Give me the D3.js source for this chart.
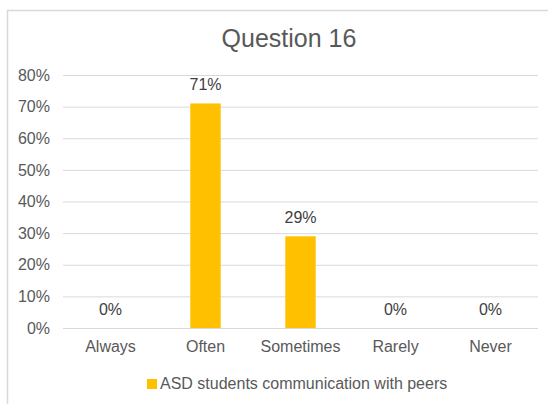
<!DOCTYPE html>
<html>
<head>
<meta charset="utf-8">
<script src="https://cdn.jsdelivr.net/npm/d3@7"></script>
<style>
  html, body { margin: 0; padding: 0; background: #fff; }
  svg { display: block; font-family: "Liberation Sans", Arial, Helvetica, sans-serif; }
</style>
</head>
<body>
<svg id="chart" width="548" height="404"></svg>
<script>
// Survey responses for question 16
const categories = ["Always", "Often", "Sometimes", "Rarely", "Never"];
const values = [0, 0.71, 0.29, 0, 0];
const yTicks = [0, 0.1, 0.2, 0.3, 0.4, 0.5, 0.6, 0.7, 0.8];
const seriesName = "ASD students communication with peers";
const chartTitle = "Question 16";

const svg = d3.select("#chart");
const W = 548, H = 404;
const textColor = "#595959";
const barColor = "#FFC000";
const gridColor = "#d9d9d9";

// outer chart frame (extends past the right and bottom edges)
svg.append("rect")
  .attr("x", 7.5).attr("y", 10.5)
  .attr("width", W + 20).attr("height", H + 20)
  .attr("fill", "#fff").attr("stroke", "#d9d9d9").attr("stroke-width", 1.5);

const plot = { left: 63, right: 538, top: 75, bottom: 328 };

const x = d3.scaleBand().domain(categories)
  .range([plot.left, plot.right]).paddingInner(0.68).paddingOuter(0.34);
const y = d3.scaleLinear().domain([0, 0.8]).range([plot.bottom, plot.top]);
const pct = d3.format(".0%");

// title
svg.append("text")
  .attr("x", 289).attr("y", 47)
  .attr("text-anchor", "middle")
  .attr("font-size", 25)
  .attr("fill", textColor)
  .text(chartTitle);

// y axis with gridlines
const yAxis = d3.axisLeft(y).tickValues(yTicks).tickFormat(pct)
  .tickSize(-(plot.right - plot.left)).tickPadding(13);
const gy = svg.append("g").attr("transform", `translate(${plot.left},0)`).call(yAxis);
gy.select(".domain").remove();
gy.selectAll(".tick line").attr("stroke", gridColor).attr("stroke-width", 1);
gy.selectAll(".tick text")
  .attr("fill", textColor).attr("font-size", 16)
  .attr("font-family", "Liberation Sans, Arial, sans-serif");

// bars
svg.selectAll("rect.bar").data(values).join("rect")
  .attr("class", "bar")
  .attr("x", (d, i) => x(categories[i]))
  .attr("width", x.bandwidth())
  .attr("y", d => y(d))
  .attr("height", d => y(0) - y(d))
  .attr("fill", barColor);

// data labels
svg.selectAll("text.val").data(values).join("text")
  .attr("class", "val")
  .attr("x", (d, i) => x(categories[i]) + x.bandwidth() / 2)
  .attr("y", d => y(d) - 13)
  .attr("text-anchor", "middle")
  .attr("font-size", 16)
  .attr("fill", "#404040")
  .text(d => pct(d));

// x axis labels
const xAxis = d3.axisBottom(x).tickSize(0).tickPadding(13);
const gx = svg.append("g").attr("transform", `translate(0,${plot.bottom})`).call(xAxis);
gx.select(".domain").remove();
gx.selectAll(".tick text")
  .attr("fill", textColor).attr("font-size", 16)
  .attr("font-family", "Liberation Sans, Arial, sans-serif");

// legend
const lg = svg.append("g").attr("transform", "translate(147,379)");
lg.append("rect").attr("width", 10).attr("height", 10).attr("fill", barColor);
lg.append("text").attr("x", 13).attr("y", 9.5)
  .attr("font-size", 16).attr("fill", textColor).text(seriesName);
</script>
</body>
</html>
